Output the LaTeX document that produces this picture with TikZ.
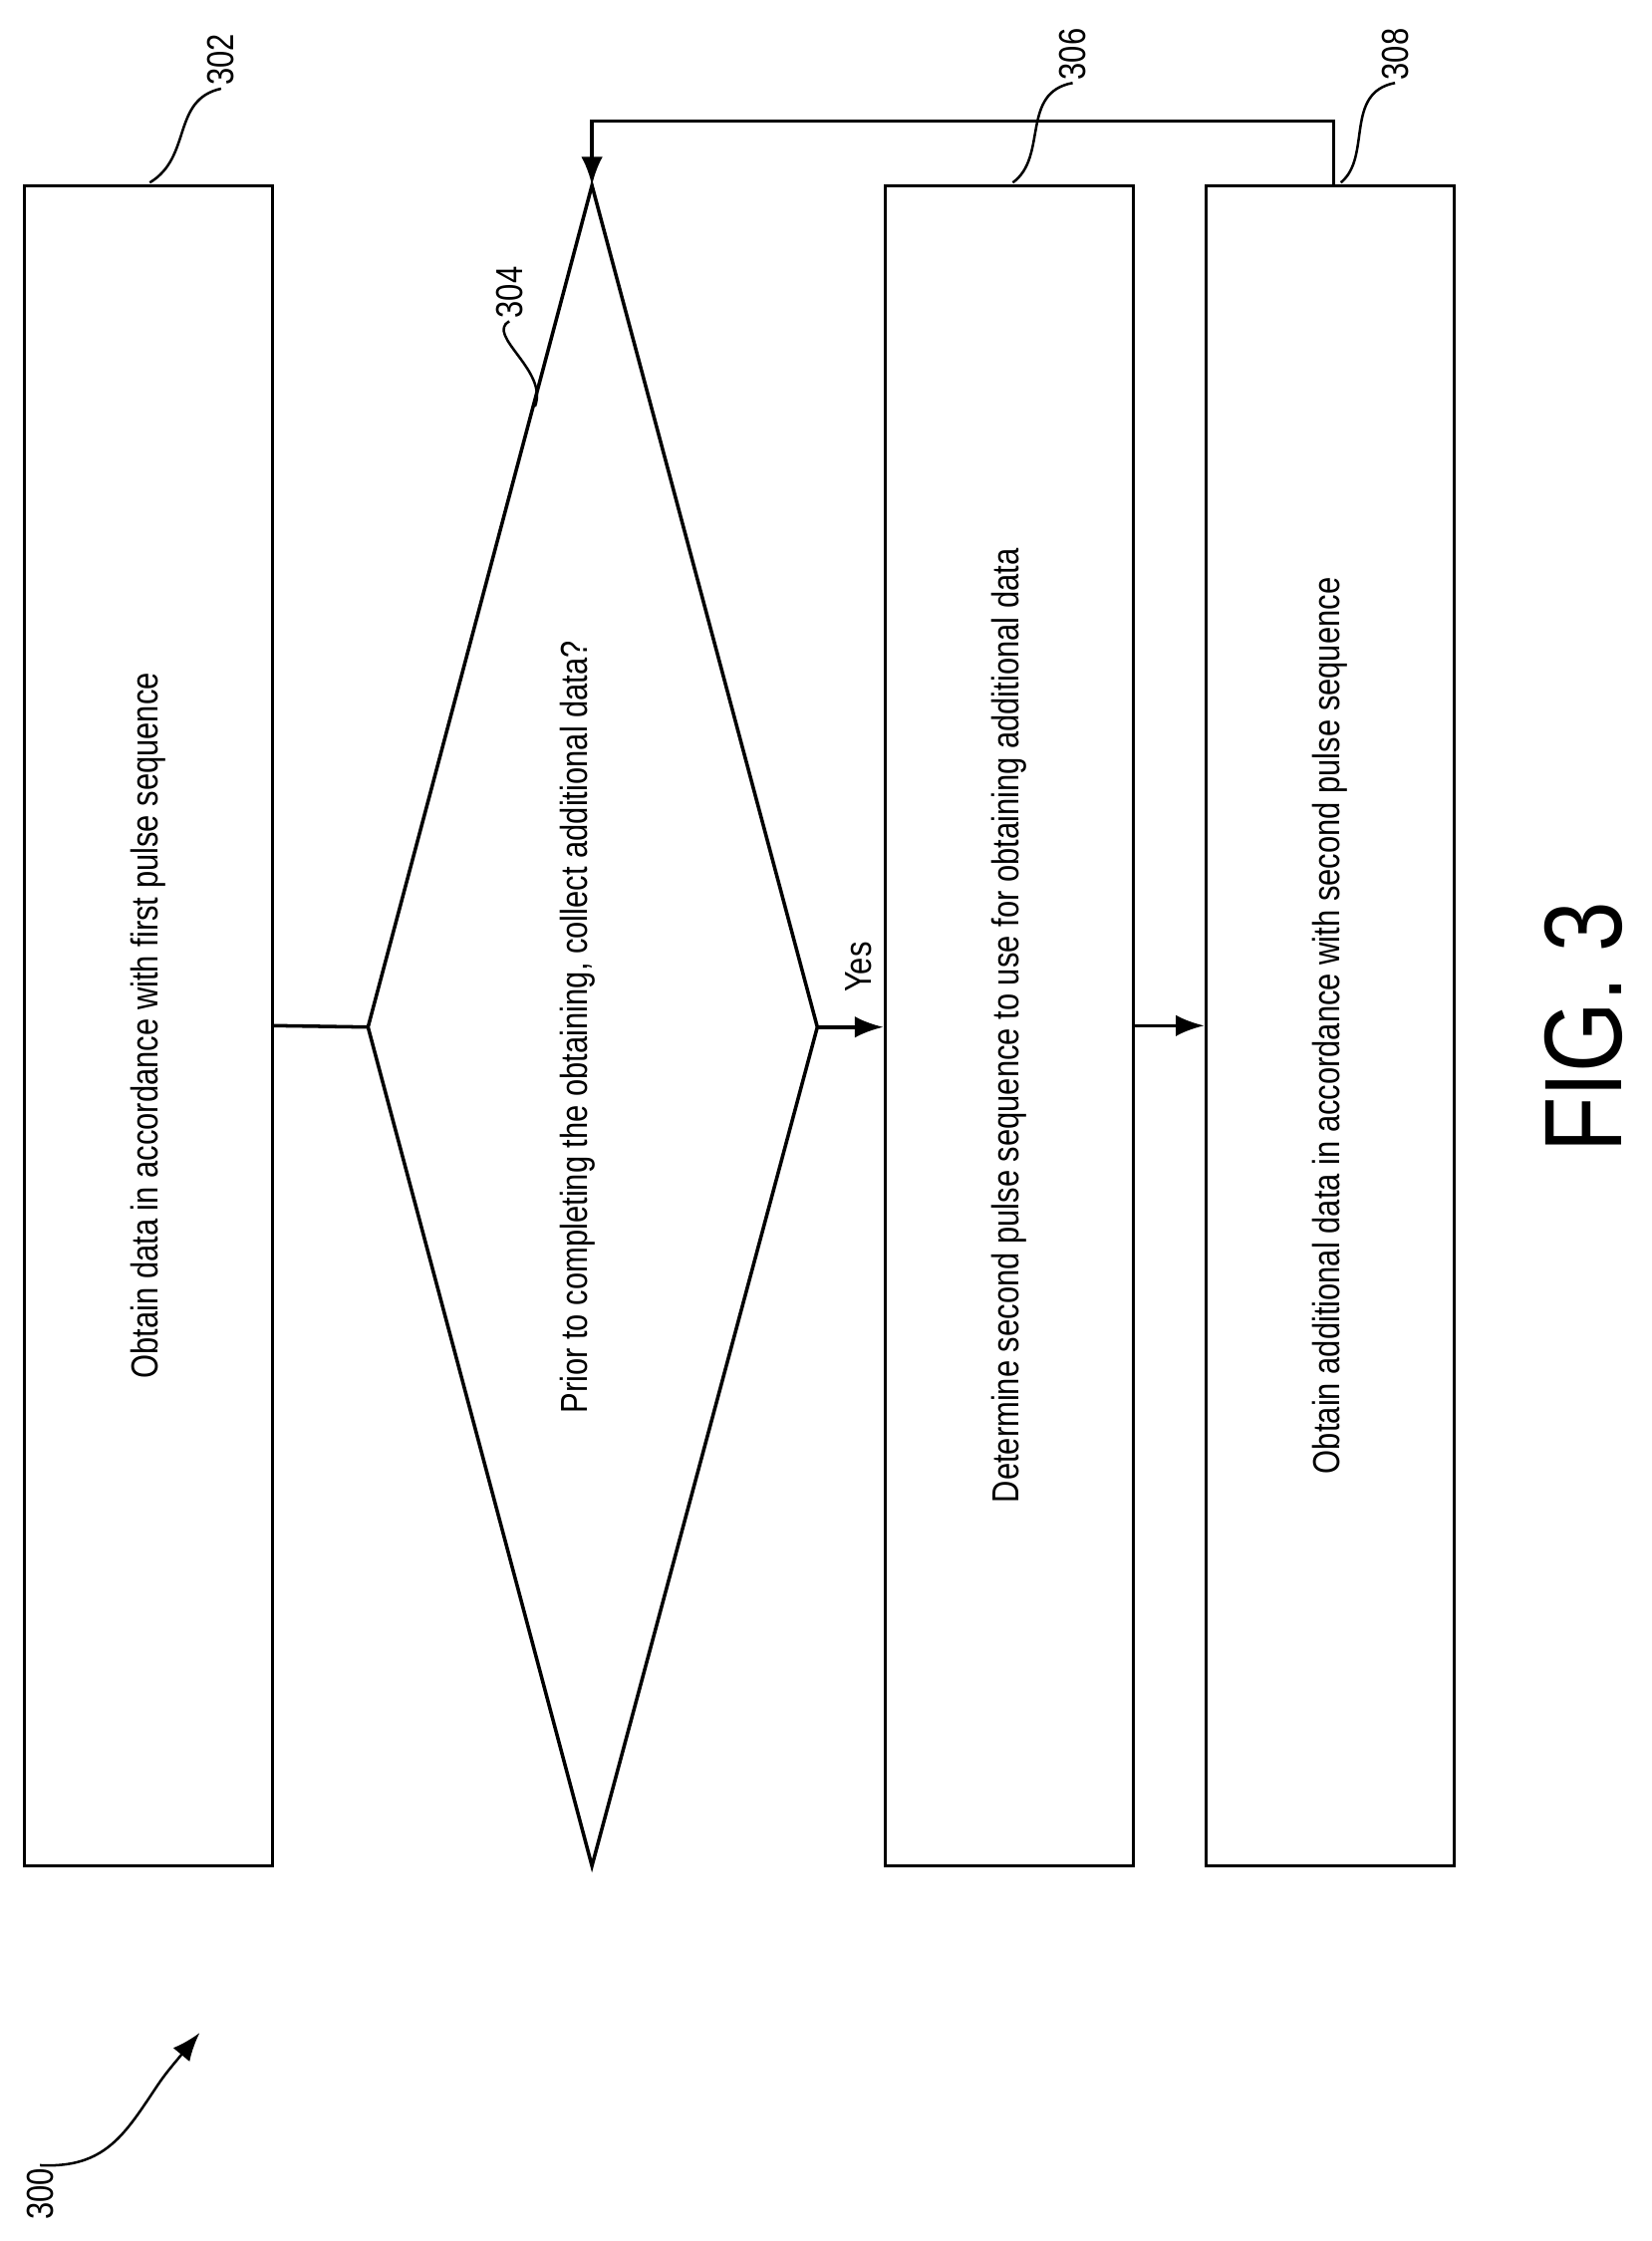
\documentclass[tikz,border=0pt]{standalone}
\usepackage{fontspec}
\setmainfont{Liberation Sans}
\usepackage{graphicx}
\tikzset{
  stepbox/.style={draw, line width=1.4pt, minimum width=3.48cm, minimum height=23.56cm, inner sep=0pt},
  flow/.style={line width=1.4pt, -{Latex[length=4mm,width=3mm]}},
  lead/.style={line width=1pt},
  reftext/.style={font=\fontsize{15}{17}\selectfont, inner sep=1pt}
}
\usetikzlibrary{arrows.meta}
\newcommand\upright[1]{\rotatebox{90}{\scalebox{0.82}[1]{#1}}}
\begin{document}
\begin{tikzpicture}[x=0.02cm, y=-0.02cm, font=\fontsize{15}{17}\selectfont]
  \useasboundingbox (0,0) rectangle (1158,1571);
  % boxes
  \node[stepbox] (obtain) at (104,719) {\upright{Obtain data in accordance with first pulse sequence}};
  \node[stepbox] (determine) at (707.5,719) {\upright{Determine second pulse sequence to use for obtaining additional data}};
  \node[stepbox] (additional) at (932.5,719) {\upright{Obtain additional data in accordance with second pulse sequence}};
  % decision
  \coordinate (dtop) at (415,130);
  \coordinate (dbot) at (415,1308);
  \coordinate (dleft) at (258,720);
  \coordinate (dright) at (573,720);
  \draw[line width=1.4pt] (dtop) -- (dright) -- (dbot) -- (dleft) -- cycle;
  \node (question) at (405,720) {\upright{Prior to completing the obtaining, collect additional data?}};
  % connectors
  \draw[line width=1.4pt] (obtain.east) -- (dleft);
  \draw[flow] (dright) -- (determine.west |- dright);
  \node (yes) at (602,678) {\upright{Yes}};
  \draw[flow] (determine.east) -- (additional.west);
  \coordinate (loop) at (935,85);
  \draw[flow] (additional.north -| loop) -- (loop) -- (dtop |- loop) -- (dtop);
  % reference labels
  \node[reftext] (l302) at (155,42) {\upright{302}};
  \draw[lead] (l302.south) .. controls (120,70) and (135,110) .. (105,128);
  \node[reftext] (l304) at (357,205) {\upright{304}};
  \draw[lead] (l304.south) .. controls (340,235) and (385,260) .. (375,285);
  \node[reftext] (l306) at (752,38) {\upright{306}};
  \draw[lead] (l306.south) .. controls (715,65) and (735,110) .. (710,128);
  \node[reftext] (l308) at (978,38) {\upright{308}};
  \draw[lead] (l308.south) .. controls (942,65) and (962,110) .. (940,128);
  \node[reftext] (l300) at (28,1538) {\upright{300}};
  \coordinate (p300) at (140,1425);
  \draw[lead, -{Latex[length=4mm,width=3mm]}] (l300.north) .. controls (70,1520) and (85,1500) .. (105,1470) .. controls (115,1455) .. (p300);
  \node[font=\fontsize{44}{48}\selectfont] (fig) at (1110,720) {\upright{FIG. 3}};
\end{tikzpicture}
\end{document}
